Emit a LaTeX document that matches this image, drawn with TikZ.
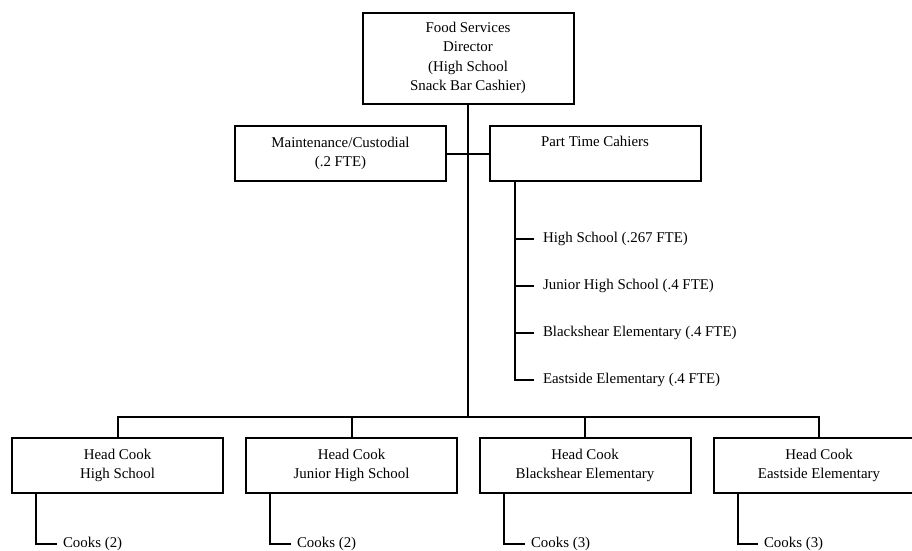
\documentclass[tikz,border=0pt]{standalone}
\usepackage{fontspec}
\setmainfont{Liberation Serif}
\begin{document}
\begin{tikzpicture}[x=1pt,y=-1pt,
  txt/.style={font=\fontsize{14.9}{19.5}\selectfont},
  box/.style={txt, draw, line width=2pt, minimum width=211pt, inner sep=0pt, align=center},
  item/.style={txt, anchor=west, inner sep=0pt, outer xsep=6pt},
  ptitem/.style={txt, anchor=west, inner sep=0pt, outer xsep=9pt},
  link/.style={line width=2pt}]
\useasboundingbox (0,0) rectangle (912,550);
\clip (0,0) rectangle (912,550);

% top level
\node[box, minimum height=91pt] (dir) at (468,58)
  {Food Services\\Director\\(High School\\Snack Bar Cashier)};
\node[box, minimum height=55pt] (maint) at (340.5,153.5)
  {Maintenance/Custodial\\(.2 FTE)};
\node[box, minimum height=55pt] (pt) at (595,153.5)
  {Part Time Cahiers\\\strut};

% part time cashiers
\node[ptitem] (p1) at (534,239) {High School (.267 FTE)};
\node[ptitem] (p2) at (534,286) {Junior High School (.4 FTE)};
\node[ptitem] (p3) at (534,333) {Blackshear Elementary (.4 FTE)};
\node[ptitem] (p4) at (534,380) {Eastside Elementary (.4 FTE)};

% head cooks
\node[box, minimum height=55pt] (hc1) at (117.5,465.5) {Head Cook\\High School};
\node[box, minimum height=55pt] (hc2) at (351.5,465.5) {Head Cook\\Junior High School};
\node[box, minimum height=55pt] (hc3) at (585,465.5) {Head Cook\\Blackshear Elementary};
\node[box, minimum height=55pt] (hc4) at (819,465.5) {Head Cook\\Eastside Elementary};

% cooks
\node[item] (c1) at (57,544) {Cooks (2)};
\node[item] (c2) at (291,544) {Cooks (2)};
\node[item] (c3) at (525,544) {Cooks (3)};
\node[item] (c4) at (758,544) {Cooks (3)};

% connectors
\coordinate (bus) at (468,417);
\draw[link] (dir.south) -- (bus);
\draw[link] (maint.east) -- (pt.west);
\draw[link] (hc1.north) -- (hc1.north |- bus) -- (hc4.north |- bus) -- (hc4.north);
\draw[link] (hc2.north) -- (hc2.north |- bus);
\draw[link] (hc3.north) -- (hc3.north |- bus);

\coordinate (ptline) at ([xshift=26pt]pt.south west);
\draw[link] (ptline) |- (p4.west);
\draw[link] (ptline |- p1.west) -- (p1.west);
\draw[link] (ptline |- p2.west) -- (p2.west);
\draw[link] (ptline |- p3.west) -- (p3.west);

\foreach \i in {1,2,3,4}{
  \draw[link] ([xshift=25pt]hc\i.south west) |- (c\i.west);
}
\end{tikzpicture}
\end{document}
